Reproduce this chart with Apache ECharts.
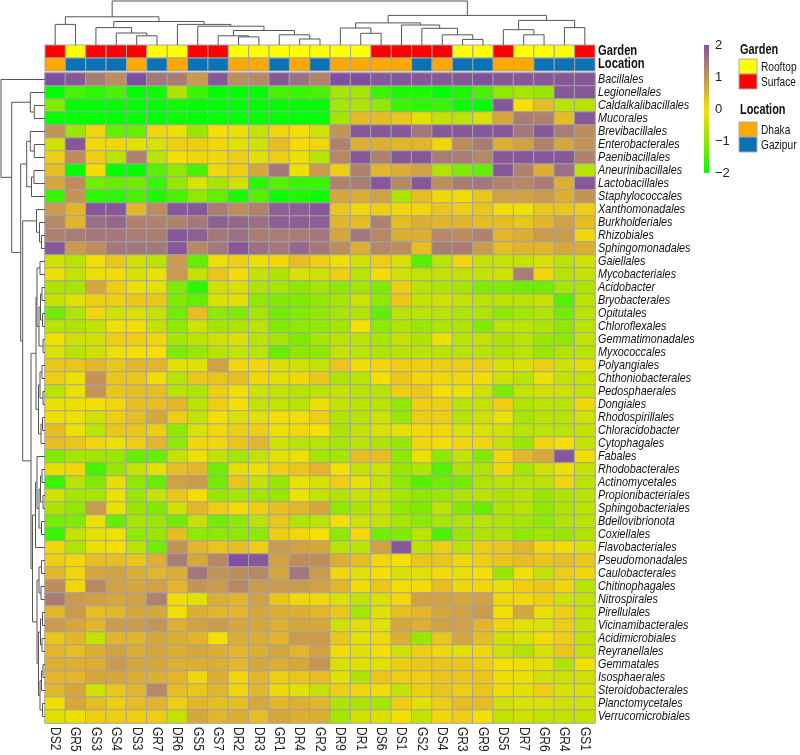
<!DOCTYPE html>
<html>
<head>
<meta charset="utf-8">
<script src="https://cdn.jsdelivr.net/npm/echarts@6/dist/echarts.min.js"></script>
<style>
  html, body { margin: 0; padding: 0; background: #fff; }
  #chart { width: 800px; height: 755px; }
</style>
</head>
<body>
<div id="chart"></div>
<script>
// samples (columns), in dendrogram order
const samples = ['DS2', 'GR5', 'GS3', 'GS4', 'DS3', 'GR7', 'DR6', 'GS5', 'GS7', 'DR2', 'DR3', 'GR1', 'DR4', 'GR2',
  'DR9', 'DR1', 'DS6', 'DS1', 'GS2', 'DS4', 'GR3', 'GR9', 'DS5', 'DR7', 'GR6', 'GR4', 'GS1'];

// orders (rows), top to bottom
const orders = ['Bacillales', 'Legionellales', 'Caldalkalibacillales', 'Mucorales', 'Brevibacillales', 'Enterobacterales',
  'Paenibacillales', 'Aneurinibacillales', 'Lactobacillales', 'Staphylococcales', 'Xanthomonadales', 'Burkholderiales',
  'Rhizobiales', 'Sphingomonadales', 'Gaiellales', 'Mycobacteriales', 'Acidobacter', 'Bryobacterales', 'Opitutales',
  'Chloroflexales', 'Gemmatimonadales', 'Myxococcales', 'Polyangiales', 'Chthoniobacterales', 'Pedosphaerales',
  'Dongiales', 'Rhodospirillales', 'Chloracidobacter', 'Cytophagales', 'Fabales', 'Rhodobacterales', 'Actinomycetales',
  'Propionibacteriales', 'Sphingobacteriales', 'Bdellovibrionota', 'Coxiellales', 'Flavobacteriales', 'Pseudomonadales',
  'Caulobacterales', 'Chitinophagales', 'Nitrospirales', 'Pirellulales', 'Vicinamibacterales', 'Acidimicrobiales',
  'Reyranellales', 'Gemmatales', 'Isosphaerales', 'Steroidobacterales', 'Planctomycetales', 'Verrucomicrobiales'];

// row z-scores, one list per order, columns as in samples
const zscores = [
  [2.0, 1.9, 1.4, 1.1, 2.0, 1.5, 1.4, 0.9, 1.9, 1.1, 1.2, 1.9, 1.6, 1.3, 2.0, 2.0, 1.9, 1.9, 1.9, 1.9, 1.9, 2.0, 1.9, 1.9, 1.9, 1.9, 1.9],
  [-2.0, -1.5, -1.7, -1.5, -2.0, -1.9, -0.7, -1.6, -2.0, -2.0, -2.0, -1.5, -1.6, -1.5, -0.8, -0.8, -1.6, -1.8, -1.8, -2.0, -1.8, -1.5, -1.0, -0.8, -0.9, 1.9, 1.9],
  [-1.1, -2, -2, -2, -2, -2, -1.9, -2, -2, -2, -2, -2, -2, -2, -0.8, -0.7, -1.0, -1.6, -1.7, -1.6, -1.9, -2.0, 1.9, 0.0, 0.4, -0.6, -0.6],
  [-2, -2, -2, -2, -2, -2, -1.9, -2, -2, -2, -2, -2, -2, -2, -0.8, 0.4, 0.4, 0.3, -0.2, -0.5, -0.6, -0.3, 0.7, 1.4, 1.3, 0.4, 1.9],
  [1.0, -0.9, 0.1, -1.3, -1.3, 0.1, -0.1, -0.9, 0.0, -0.1, -0.5, 0.1, 0.0, -0.4, 1.0, 1.9, 1.9, 1.9, 1.5, 1.9, 1.9, 1.9, 1.9, 1.5, 1.9, 1.4, 1.1],
  [-0.4, 1.9, 0.1, 0.1, -0.2, -0.3, 0.2, 0.2, 0.1, -0.2, -0.4, 0.4, 0.05, 0.1, 1.3, 0.6, 0.6, 0.5, 0.5, 0.1, 1.1, 1.4, 0.6, 0.8, 1.3, 0.7, 1.0],
  [0.2, 1.1, 0.2, -0.6, 1.3, -0.6, -0.05, 0.1, 0.1, 0.2, -0.2, 0.2, -0.1, -0.6, 1.2, 1.9, 1.3, 1.9, 1.9, 1.4, 1.4, 1.2, 1.9, 1.9, 1.9, 1.9, 1.3],
  [0.4, -2, 0.05, -2, -2, -1.4, -1.0, -1.5, 0.1, 0.2, 0.7, 1.5, -0.1, 0.9, 0.2, 1.3, 0.5, 0.6, 0.8, -0.7, -1.1, -1.3, 1.9, 1.3, 0.6, 1.6, -0.6],
  [0.7, 1.1, -1.2, -1.3, -1.2, -1.6, -0.9, -0.3, -0.8, -0.4, -1.7, -1.4, -1.6, -1.6, 1.3, 1.4, 1.9, 1.2, 1.9, 1.1, 1.4, 1.5, 1.3, 1.2, 1.4, 0.6, 1.9],
  [-1.6, 1.0, -1.7, -1.7, -1.5, -1.8, -1.5, -1.0, -1.3, -1.8, -1.4, -1.9, -1.8, -1.9, 0.7, 0.6, 0.8, -0.7, 0.4, 0.1, 0.05, 0.3, 0.8, 0.8, 0.9, 0.6, 1.0],
  [0.9, 0.5, 1.9, 1.9, 0.5, 1.1, 1.9, 1.9, 1.4, 1.1, 1.3, 1.8, 1.8, 1.9, 0.3, 0.1, 0.2, 0.1, 0.1, 0.3, 0.2, 0.3, 0.05, -0.1, 0.3, 0.3, 0.2],
  [1.2, 0.5, 1.6, 1.7, 1.3, 1.3, 1.3, 1.5, 1.8, 1.7, 1.6, 1.8, 1.8, 1.8, 0.5, 0.4, 1.3, 0.4, 0.6, 0.5, 0.5, 0.4, 0.4, 0.3, 0.5, 0.8, 0.4],
  [1.3, 1.4, 1.5, 1.5, 1.4, 1.4, 1.9, 1.8, 1.5, 1.6, 1.4, 1.4, 1.4, 1.5, 0.7, 1.5, 1.2, 0.6, 0.6, 1.2, 1.1, 1.3, 0.5, 0.6, 0.9, 0.9, 0.1],
  [1.9, 0.9, 1.1, 1.5, 1.5, 1.5, 1.9, 1.2, 1.5, 1.9, 1.6, 1.5, 1.7, 1.5, 1.1, 0.6, 1.2, 1.1, 0.4, 1.4, 1.4, 0.9, 0.4, 0.5, 0.5, 0.7, 0.6],
  [-0.4, -0.6, -0.05, 0.3, -0.4, -0.6, 0.9, -1.3, -0.1, 0.2, -0.1, 0.1, 0.4, 0.2, -0.1, -0.4, 0.2, -0.3, -1.4, -0.6, 0.1, -0.5, -0.5, -0.5, -0.3, -0.6, -0.4],
  [-0.1, -0.5, -0.1, 0.05, -0.3, -0.1, 0.9, -0.5, 0.3, 0.05, -0.5, -0.7, -0.3, -0.4, 0.2, -0.6, 0.05, -0.4, -0.5, -0.5, -0.5, -0.5, -0.4, 1.4, 0.1, -0.6, -0.5],
  [-0.7, -0.8, 0.7, 0.2, -0.1, -0.15, -1.1, -1.7, -0.4, -0.3, -0.7, -0.8, -1.0, -0.8, -1.0, -0.8, -1.1, 0.2, -0.6, -0.7, -0.8, -1.1, -1.1, -1.2, -1.2, -0.8, -0.7],
  [-0.5, -0.2, 0.2, 0.2, 0.3, 0.3, -1.1, -1.3, -0.3, -0.2, -1.0, -1.1, -1.1, -1.0, -0.8, -0.4, -1.0, 0.3, -0.5, -0.4, -0.5, -0.6, -0.6, -0.6, -0.5, -1.4, -0.6],
  [-1.2, -0.7, 0.1, -0.4, -0.3, -0.5, -1.2, 0.4, -1.0, -1.1, -0.8, -1.2, -1.1, -1.0, -0.8, -0.7, -1.3, -0.6, -0.6, -0.6, -0.7, -0.7, -1.0, -0.8, -0.7, -1.2, -0.6],
  [-0.6, -0.7, -0.5, -0.1, 0.05, -0.5, -1.0, -0.4, -0.8, -0.7, -0.6, -1.1, -1.0, -1.0, -0.8, 0.0, -1.0, -0.7, -0.9, -0.7, -0.7, -1.1, -0.6, -0.6, -0.7, -1.0, -0.6],
  [-0.05, -0.4, -0.4, 0.2, 0.2, 0.1, -0.8, -0.6, -0.4, -0.3, -0.6, -0.8, -1.1, -0.8, -0.6, -0.6, -0.8, -0.5, -0.7, -0.1, -0.6, -0.5, -0.7, -0.6, -0.9, -1.0, -0.5],
  [-0.3, -0.6, -0.4, -0.1, 0.0, 0.0, -1.1, -0.9, -0.6, -0.5, -0.6, -1.3, -1.0, -1.0, -0.5, -0.6, -0.7, -0.6, -0.6, -0.6, -0.6, -0.6, -0.7, -0.6, -0.9, -0.7, -0.6],
  [0.3, 0.3, 0.5, 0.3, 0.5, 0.5, -0.2, -0.2, 0.8, 0.1, 0.1, -0.3, -0.4, -0.5, 0.3, -0.1, 0.1, 0.2, 0.2, 0.2, 0.2, 0.2, -0.3, -0.3, 0.2, -0.4, -0.2],
  [0.2, -0.1, 1.0, 0.3, 0.3, 0.05, -0.6, 0.3, 0.3, 0.4, 0.1, -0.2, 0.1, 0.3, -0.7, -0.6, 0.0, 0.3, 0.1, 0.1, 0.1, 0.05, -0.4, -0.6, -0.1, -0.5, -0.5],
  [-0.6, -0.1, 1.0, 0.3, 0.4, 0.4, -0.6, -0.7, 0.2, -0.05, -0.4, -0.5, -0.6, -0.6, -0.5, -0.6, -0.6, 0.2, 0.3, 0.0, -0.1, -0.4, -1.1, -0.5, -0.4, -0.4, -0.5],
  [-0.1, -0.1, 0.0, 0.1, 0.4, 0.4, 0.5, -0.6, 0.2, 0.0, -0.5, -0.5, -0.6, -0.1, -0.5, -0.6, -0.6, -1.0, 0.2, 0.2, -0.6, -0.5, 0.2, -0.7, -0.6, -0.6, 0.1],
  [-0.1, -0.1, -0.4, 0.2, 0.4, 0.7, 0.2, -0.5, 0.0, -0.3, -0.2, 0.0, -0.05, 0.2, -0.7, -0.6, -0.4, -0.9, 0.2, 0.2, -0.6, -0.4, -0.1, -0.8, -0.6, -0.6, -0.4],
  [0.4, -0.1, -0.6, 0.3, 0.3, 0.2, -1.0, -0.3, 0.1, 0.2, 0.2, -0.1, 0.1, 0.0, -0.7, -0.5, -0.3, -0.2, 0.1, 0.1, -0.3, -0.3, -0.4, -0.6, -0.6, -0.6, -0.5],
  [0.4, 0.3, 0.1, -0.1, 0.2, 0.5, -1.0, 0.1, 0.1, 0.3, 0.5, -0.4, -0.6, -0.6, -0.8, -0.6, -0.7, -0.9, 0.1, 0.0, 0.1, 0.1, -0.5, -0.9, 0.1, 0.0, -0.5],
  [-1.1, -0.8, -0.8, -0.9, -1.3, -1.3, -0.5, -0.1, -0.5, -0.8, -0.5, -0.2, -0.1, -0.8, -0.8, 0.4, 0.4, -1.0, -0.1, -1.0, -0.5, -1.1, 0.1, 0.5, 0.7, 1.9, 0.05],
  [-0.15, 0.1, -1.5, -0.9, -0.5, -0.2, 0.4, 0.5, -1.2, -0.2, -0.1, 0.2, 0.3, 0.5, -0.05, -0.5, -0.4, -0.9, -0.7, -1.4, -0.7, -0.7, 0.1, -0.8, -0.4, -0.1, -0.5],
  [-1.6, -0.6, -1.1, -0.15, -1.0, -1.3, 0.8, 0.9, -1.2, 0.3, -0.5, -0.9, -0.1, -0.3, 0.2, -0.1, -0.5, -1.0, -1.4, -1.2, -1.2, -0.7, -0.6, -0.6, -0.6, 0.1, -0.6],
  [-0.4, -0.8, -0.8, -0.1, -0.9, -0.5, 0.3, 0.05, -0.9, -0.8, -0.8, -0.9, -0.1, -0.5, -0.7, -0.5, -0.5, -0.8, -1.0, -0.9, -0.7, -0.6, -0.7, -0.6, -0.9, -0.7, -0.6],
  [-0.7, -1.0, 0.9, -0.1, -0.9, -1.1, -0.4, 0.5, 0.2, 0.05, 0.2, 0.4, 0.5, 0.7, -1.0, -0.7, -0.5, -1.0, -1.1, -0.6, -1.1, -1.3, -0.7, -0.6, -1.0, -0.7, -0.6],
  [-1.2, -1.1, -0.1, -1.3, -0.8, -0.9, -1.2, -0.5, -1.2, -1.0, -0.6, 0.3, -0.7, -0.6, 0.0, -0.4, -0.5, -0.8, -1.0, -0.8, -0.7, -0.6, -0.7, -0.8, -1.0, -0.7, -0.6],
  [-1.6, -0.5, -0.2, -0.1, -1.0, -0.9, 0.4, -1.0, -1.0, -1.0, -1.0, 0.2, 0.1, 0.0, -1.0, 0.1, -1.2, -1.1, -0.6, -1.5, -0.9, -0.7, -0.7, -1.0, -0.8, -0.9, -0.7],
  [0.1, -0.7, -0.1, 0.0, -0.6, -1.2, 1.0, 0.5, 0.3, 0.4, 0.2, 0.9, 0.8, 0.7, -0.6, -0.6, 0.8, 1.9, -0.6, 0.2, -0.6, 0.2, 0.3, 0.5, 0.1, 0.05, -0.3],
  [0.2, 0.1, 0.4, 0.4, 0.3, 0.6, 1.4, 0.7, 1.2, 2.0, 1.9, 0.8, 1.1, 1.1, 0.6, 0.4, 0.1, 0.0, 0.3, 0.3, 0.1, 0.2, 0.3, 0.4, 0.3, 0.4, 0.3],
  [0.5, 0.1, 0.7, 0.8, 0.6, 0.5, 0.6, 1.5, 1.0, 1.1, 1.2, 0.7, 1.5, 0.9, 0.1, -0.2, 0.0, -0.3, -0.2, 0.05, -0.1, 0.0, -0.9, -0.05, -0.5, 0.2, 0.1],
  [1.1, 0.1, 1.2, 0.8, 0.7, 0.8, 0.5, 1.0, 0.9, 1.2, 0.9, 0.9, 0.9, 0.8, 0.5, 0.05, 0.3, -0.05, 0.05, 0.4, 0.1, 0.1, -0.1, 0.2, 0.3, 0.1, -0.6],
  [1.4, 0.9, 0.8, 0.7, 0.8, 1.3, 0.05, -0.2, 0.6, 0.5, 0.8, 0.3, 0.1, 0.1, -0.3, -0.5, -0.3, 0.1, 0.8, 0.8, 0.7, 0.8, 0.1, 0.1, 0.2, -0.4, -0.5],
  [0.5, 0.9, 0.4, 0.5, 0.7, 0.7, -0.05, 0.6, 0.5, 0.5, 0.7, 0.6, 0.6, 0.5, 0.3, -0.8, -0.2, 0.4, 0.5, 0.7, 0.8, 0.9, 0.0, 0.7, -0.1, 0.2, -0.5],
  [0.9, 0.7, 0.5, 0.9, 0.9, 1.0, 0.6, 0.8, 0.9, 0.7, 0.7, 0.6, 0.7, 0.7, -0.4, -0.2, -0.2, 0.7, 0.6, 0.8, 0.8, 0.5, 0.1, -0.2, -0.3, 0.2, -0.5],
  [0.3, 0.5, -0.5, 0.5, 0.5, 0.7, 0.6, 0.5, 0.0, 0.6, 0.6, 0.5, 0.9, 0.9, 0.3, -0.2, 0.1, 0.6, -0.9, 0.3, 0.7, 0.4, -0.4, -0.3, 0.05, 0.2, -0.5],
  [0.5, 0.4, 0.6, 0.8, 0.6, 0.7, 0.6, 0.7, 0.6, 0.5, 0.6, 0.7, 0.5, 0.8, 0.05, -0.2, 0.0, -0.4, 0.2, 0.1, -0.2, 0.1, -0.4, -0.7, -0.3, 0.3, -0.5],
  [0.6, 0.6, 0.6, 0.9, 0.7, 0.7, 0.6, 0.6, 0.6, 0.5, 0.7, 0.6, 0.7, 1.0, -0.3, -0.2, -0.2, 0.2, 0.3, 0.3, 0.3, 0.2, 0.0, -0.1, -0.2, -0.7, -0.05],
  [0.5, 0.5, 0.7, 0.7, 0.6, 0.6, 0.5, 0.1, 0.6, 0.1, 0.5, 0.2, 0.3, 0.4, -0.2, -0.7, 0.3, 0.2, 0.2, 0.3, 0.3, 0.3, -0.1, -0.1, -0.4, -0.4, -0.4],
  [0.5, 0.7, -0.4, 0.3, 0.5, 1.2, 0.4, 0.3, 0.5, 0.1, 0.5, 0.1, -0.2, -0.5, 0.2, 0.1, 0.05, -0.5, 0.2, 0.3, 0.2, 0.3, 0.05, -0.2, 0.2, -0.3, -0.3],
  [-0.05, 0.7, 0.4, 0.2, 0.4, 0.5, 0.2, 0.5, 0.4, 0.4, 0.7, 0.5, 0.6, 0.5, -0.7, -0.7, -0.8, 0.2, -0.2, 0.2, 0.4, 0.4, -0.4, -0.3, -0.3, -0.4, -0.4],
  [-0.2, -0.1, 0.2, 0.2, 0.2, 0.2, -0.5, 0.7, 0.5, 0.6, 0.4, 0.7, 0.6, 0.6, -0.8, -0.4, -0.3, 0.0, -0.5, 0.1, 0.2, 0.0, -0.5, -0.4, -0.5, -0.5, -0.5]
];

// column dendrogram: [height, left, right], leaves are sample indices
const sampleTree = [44,
  [28.2, [20.6, 0, 1],
    [23.5, [17.4, 2, [12, 3, [9.2, 4, 5]]],
      [20.6, 6, [18.8, 7, [14.5, [9.2, 8, [8.1, 9, 10]], [10.2, 11, [6, 12, 13]]]]]]],
  [29.6, [22.1, [17, 14, [11.7, 15, 16]], [20, 17, [16.7, 18, [10.2, 19, [5.6, 20, 21]]]]],
    [24.6, [15.3, 22, [10.2, 23, 24]], [17.4, 25, 26]]]
];

// row dendrogram: [height, upper, lower], leaves are order indices
const orderTree = [44, 0,
  [33.3,
    [14.7, 1, [10.7, 2, 3]],
    [24.3,
      [18.3, [14.7, 4, [10.7, 5, 6]], [13.5, [11, 7, 8], 9]],
      [22.3,
        [8.5, 10, [5.5, 11, [3.5, 12, 13]]],
        [14,
          [9, [8, [5, 14, 15], [6, [4.5, [3, 16, 17], [2.5, 18, 19]], [2, 20, 21]]],
            [6.5, [5, [3, 22, 23], [2, 24, 25]], [4, [2.5, 26, 27], 28]]],
          [12.5,
            [9.5, [8, 29, [6, [4.5, [3, 30, 31], [2, 32, 33]], [3.5, 34, 35]]], 36],
            [8, [6, [3.5, 37, 38], [4, 39, 40]],
              [6.5, [4.5, [2.5, 41, 42], [3, 43, 44]], [5, [3.5, [2, 45, 46], 47], [2.5, 48, 49]]]]]]]]]
];

const annotationRows = ['Garden', 'Location'];
const gardenLevels = ['Rooftop', 'Surface'];
const gardenColors = ['#ffff00', '#ff0000'];
const locationLevels = ['Dhaka', 'Gazipur'];
const locationColors = ['#ffa800', '#0b72b5'];

const scaleColors = ['#00ff00', '#48f200', '#8ee800', '#c4e200', '#f5df00', '#e2b52c', '#c49356', '#a3777c', '#7f50a2'];

// no narrow font installed: squeeze Liberation Sans horizontally instead
const FONT = "'Liberation Sans', Arial, sans-serif";
const SQUEEZE = 0.8;
const GRID_LINE = '#a3a3a3';
const TREE_LINE = '#555';

const gardenOf = s => (s[1] === 'S' ? 1 : 0);
const locationOf = s => (s[0] === 'G' ? 1 : 0);

// dendrogram segments: [posA, hA, posB, hB, h]
function layoutTree(node, segs) {
  if (typeof node === 'number') return { pos: node + 0.5, h: 0 };
  const a = layoutTree(node[1], segs);
  const b = layoutTree(node[2], segs);
  segs.push([a.pos, a.h, b.pos, b.h, node[0]]);
  return { pos: (a.pos + b.pos) / 2, h: node[0] };
}
const colSegs = [];
layoutTree(sampleTree, colSegs);
const rowSegs = [];
layoutTree(orderTree, rowSegs);

const heatData = [];
zscores.forEach((row, r) => row.forEach((v, c) => heatData.push([c, r, v])));

const annotCells = [];
samples.forEach((s, c) => {
  annotCells.push({ value: [c, 0], color: gardenColors[gardenOf(s)] });
  annotCells.push({ value: [c, 1], color: locationColors[locationOf(s)] });
});

const chart = echarts.init(document.getElementById('chart'), null, { renderer: 'canvas' });

function treeRender(vertical) {
  return function (params, api) {
    const pa = api.value(0), ha = api.value(1), pb = api.value(2), hb = api.value(3), h = api.value(4);
    const pt = (p, hh) => api.coord(vertical ? [p, hh] : [hh, p]);
    return {
      type: 'polyline',
      shape: { points: [pt(pa, ha), pt(pa, h), pt(pb, h), pt(pb, hb)] },
      style: { stroke: TREE_LINE, lineWidth: 1, fill: null }
    };
  };
}

// labels to the right of a grid's rows
function rowLabelRender(names, font) {
  return function (params, api) {
    const p = api.coord([0, api.value(1)]);
    const cs = params.coordSys;
    return {
      type: 'text', x: cs.x + cs.width + 3, y: p[1], scaleX: SQUEEZE,
      style: { text: names[params.dataIndex], font, fill: '#111', align: 'left', verticalAlign: 'middle' }
    };
  };
}

const legendGraphics = [];
[['Garden', gardenLevels, gardenColors, 50, 59], ['Location', locationLevels, locationColors, 110, 122]]
  .forEach(([title, levels, colors, titleY, boxY]) => {
    legendGraphics.push({
      type: 'text', x: 740, y: titleY, scaleX: 0.78,
      style: { text: title, font: 'bold 14px ' + FONT, fill: '#111', verticalAlign: 'middle' }
    });
    levels.forEach((lv, i) => {
      legendGraphics.push({
        type: 'rect', shape: { x: 739, y: boxY + i * 15, width: 18, height: 15 },
        style: { fill: colors[i], stroke: '#aaa', lineWidth: 1 }
      });
      legendGraphics.push({
        type: 'text', x: 761, y: boxY + i * 15 + 8, scaleX: 0.78,
        style: { text: lv, font: '13px ' + FONT, fill: '#111', verticalAlign: 'middle' }
      });
    });
  });

chart.setOption({
  animation: false,
  backgroundColor: '#fff',
  grid: [
    { left: 45, top: 73, width: 550, height: 650 },
    { left: 45, top: 45, width: 550, height: 26 },
    { left: 45, top: 0, width: 550, height: 45 },
    { left: 0, top: 73, width: 45, height: 650 },
    { left: 704, top: 45, width: 5, height: 128 }
  ],
  xAxis: [
    { type: 'category', gridIndex: 0, data: samples, show: false },
    { type: 'category', gridIndex: 1, data: samples, show: false },
    { type: 'value', gridIndex: 2, min: 0, max: samples.length, show: false },
    { type: 'value', gridIndex: 3, min: 0, max: 45, inverse: true, show: false },
    { type: 'value', gridIndex: 4, min: 0, max: 1, show: false }
  ],
  yAxis: [
    { type: 'category', gridIndex: 0, data: orders, inverse: true, show: false },
    { type: 'category', gridIndex: 1, data: annotationRows, inverse: true, show: false },
    { type: 'value', gridIndex: 2, min: 0, max: 45, show: false },
    { type: 'value', gridIndex: 3, min: 0, max: orders.length, inverse: true, show: false },
    {
      type: 'value', gridIndex: 4, min: -2, max: 2, interval: 1, position: 'right',
      axisLine: { show: false }, axisTick: { show: false }, splitLine: { show: false },
      axisLabel: {
        margin: 6, fontFamily: FONT, fontSize: 13, color: '#222',
        formatter: v => (v < 0 ? '\u2212' + Math.abs(v) : String(v))
      }
    }
  ],
  visualMap: {
    show: false, type: 'continuous', seriesIndex: 0, min: -2, max: 2,
    inRange: { color: scaleColors }
  },
  series: [
    {
      type: 'heatmap', xAxisIndex: 0, yAxisIndex: 0, data: heatData,
      itemStyle: { borderColor: GRID_LINE, borderWidth: 1 },
      emphasis: { disabled: true }, progressive: 0
    },
    {
      type: 'custom', xAxisIndex: 1, yAxisIndex: 1, data: annotCells, silent: true,
      renderItem: (params, api) => {
        const p = api.coord([api.value(0), api.value(1)]);
        const s = api.size([1, 1]);
        return {
          type: 'rect',
          shape: { x: p[0] - s[0] / 2, y: p[1] - s[1] / 2, width: s[0], height: s[1] },
          style: { fill: annotCells[params.dataIndex].color, stroke: GRID_LINE, lineWidth: 1 }
        };
      }
    },
    { type: 'custom', xAxisIndex: 2, yAxisIndex: 2, data: colSegs, silent: true, renderItem: treeRender(true) },
    { type: 'custom', xAxisIndex: 3, yAxisIndex: 3, data: rowSegs, silent: true, renderItem: treeRender(false) },
    {
      type: 'custom', xAxisIndex: 4, yAxisIndex: 4, data: [[0, -2, 1, 2]], silent: true,
      renderItem: (params, api) => {
        const a = api.coord([api.value(0), api.value(3)]);
        const b = api.coord([api.value(2), api.value(1)]);
        const stops = scaleColors.map((c, i) => ({ offset: 1 - i / (scaleColors.length - 1), color: c }))
          .sort((p, q) => p.offset - q.offset);
        return {
          type: 'rect',
          shape: { x: a[0], y: a[1], width: b[0] - a[0], height: b[1] - a[1] },
          style: { fill: new echarts.graphic.LinearGradient(0, 0, 0, 1, stops) }
        };
      }
    },
    // order names (italic, right of heatmap)
    {
      type: 'custom', xAxisIndex: 0, yAxisIndex: 0, silent: true,
      data: orders.map((o, i) => [0, i]),
      renderItem: rowLabelRender(orders, 'italic 13.5px ' + FONT)
    },
    // annotation names
    {
      type: 'custom', xAxisIndex: 1, yAxisIndex: 1, silent: true,
      data: annotationRows.map((o, i) => [0, i]),
      renderItem: rowLabelRender(annotationRows, 'bold 14px ' + FONT)
    },
    // sample names, rotated under the heatmap
    {
      type: 'custom', xAxisIndex: 0, yAxisIndex: 0, silent: true,
      data: samples.map((s, i) => [i, 0]),
      renderItem: (params, api) => {
        const p = api.coord([api.value(0), 0]);
        const cs = params.coordSys;
        return {
          type: 'text', x: p[0], y: cs.y + cs.height + 4, rotation: -Math.PI / 2, scaleX: SQUEEZE,
          style: { text: samples[params.dataIndex], font: '15px ' + FONT, fill: '#222', align: 'left', verticalAlign: 'middle' }
        };
      }
    }
  ],
  graphic: legendGraphics
});
</script>
</body>
</html>
